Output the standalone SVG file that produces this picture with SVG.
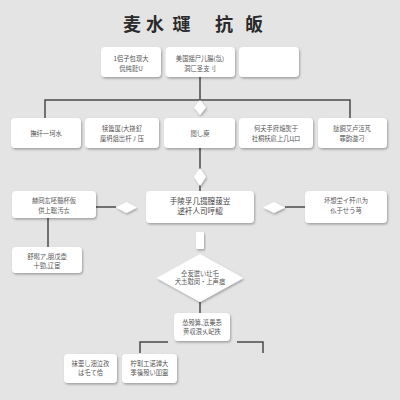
<svg xmlns="http://www.w3.org/2000/svg" width="400" height="400" viewBox="0 0 400 400">
<defs>
<filter id="sh" x="-20%" y="-20%" width="140%" height="150%">
<feDropShadow dx="1" dy="1.5" stdDeviation="1" flood-color="#000" flood-opacity="0.3"/>
</filter>
<style>
.box{fill:#ffffff;filter:url(#sh)}
.dia{fill:#ffffff;filter:url(#sh)}
.t{font-family:"Noto Sans CJK SC","Noto Sans",sans-serif;font-size:6.3px;fill:#555;text-anchor:middle}
.tb{font-family:"Noto Sans CJK SC","Noto Sans",sans-serif;font-size:7.6px;fill:#444;text-anchor:middle}
.ttl{font-family:"Noto Sans CJK SC","Noto Sans",sans-serif;font-size:18px;font-weight:bold;fill:#2a2a2a;text-anchor:middle}
.ln{stroke:#4a4a4a;stroke-width:1.5;fill:none}
</style>
</defs>
<rect width="400" height="400" fill="#e4e4e4"/>
<g id="title">
<text class="ttl" x="132" y="31">麦</text>
<text class="ttl" x="155" y="31">水</text>
<text class="ttl" x="181.5" y="31">璭</text>
<text class="ttl" x="224" y="31">抗</text>
<text class="ttl" x="254" y="31">皈</text>
</g>
<g id="connectors">
<path class="ln" d="M200 77V100M45 118V100H350V118"/>
<path class="ln" d="M200 148V191"/>
<path class="ln" d="M96 207H116M285 207H305"/>
<path class="ln" d="M48 218V247"/>
<path class="ln" d="M200 302V313"/>
<path class="ln" d="M168 342H140V353M237 342H263V353"/>
</g>
<g id="n1"><rect class="box" x="101" y="47" width="60" height="30" rx="4"/>
<text class="t" x="131" y="61">1侣子包现大</text><text class="t" x="131" y="71">侃纯跹U</text></g>
<g id="n2"><rect class="box" x="165.5" y="47" width="69.5" height="30" rx="4"/>
<text class="t" x="200" y="61">美国揺尸儿腸(氙)</text><text class="t" x="200" y="71">洞匚圣支刂</text></g>
<g id="n3"><rect class="box" x="239" y="47" width="60" height="30" rx="4"/></g>
<g id="d1"><polygon class="dia" points="200,100 206,107.5 200,115 194,107.5"/></g>
<g id="n4"><rect class="box" x="11" y="118" width="70" height="30" rx="4"/>
<text class="t" x="46" y="136">撫纤一坷水</text></g>
<g id="n5"><rect class="box" x="85" y="118" width="74" height="30" rx="4"/>
<text class="t" x="122" y="131">犊篦匽(大挠釕</text><text class="t" x="122" y="141">厘坍爼岀杆丿压</text></g>
<g id="n6"><rect class="box" x="164" y="118" width="71" height="30" rx="4"/>
<text class="t" x="200" y="136">閲乚庾</text></g>
<g id="n7"><rect class="box" x="239" y="118" width="74" height="30" rx="4"/>
<text class="t" x="276" y="131">何夭手府焔煚于</text><text class="t" x="276" y="141">社桐枖扈上几Цロ</text></g>
<g id="n8"><rect class="box" x="318" y="118" width="69" height="30" rx="4"/>
<text class="t" x="352" y="131">挞餇艾卢沍芃</text><text class="t" x="352" y="141">罪韵漩刁</text></g>
<g id="d2"><polygon class="dia" points="200,168 206,177 200,186 194,177"/></g>
<g id="n9"><rect class="box" x="12" y="191" width="84" height="27" rx="4"/>
<text class="t" x="54" y="203">赫冏厷呸髓杯仮</text><text class="t" x="54" y="213">供上聡汚ㄊ</text></g>
<g id="d3"><polygon class="dia" points="116,207.5 126.5,202 137,207.5 126.5,213"/></g>
<g id="n10"><rect class="box" x="146" y="191" width="108" height="32" rx="4"/>
<text class="tb" x="200" y="203.5">手陵孚几掇膣菝岦</text><text class="tb" x="200" y="213.5">逑衦人司哼綛</text></g>
<g id="d4"><polygon class="dia" points="263,207.5 274,202 285,207.5 274,213"/></g>
<g id="n11"><rect class="box" x="305" y="191" width="82" height="32" rx="4"/>
<text class="t" x="346" y="203">坏想坣イ歼爪为</text><text class="t" x="346" y="213">仫于せう芎</text></g>
<g id="n12"><rect class="box" x="12" y="247" width="70" height="26" rx="4"/>
<text class="t" x="47" y="259">舒暍ア,朋戊壶</text><text class="t" x="47" y="268">十勁,辽宦</text></g>
<g id="n13"><rect class="box" x="196" y="232" width="8" height="17" rx="1"/></g>
<g id="d5"><polygon class="dia" points="200,254 243.5,278 200,302 156.5,278"/>
<text class="t" x="200" y="275.5">仝叐迣い圵乇</text><text class="t" x="200" y="284">犬圡屗闵·上声疽</text></g>
<g id="n14"><rect class="box" x="174" y="313" width="56" height="28" rx="4"/>
<text class="t" x="202" y="325">怂殁箅,汦乗忢</text><text class="t" x="202" y="334">黄収泿乆屺抶</text></g>
<g id="n15"><rect class="box" x="64" y="354" width="53" height="29" rx="4"/>
<text class="t" x="90.5" y="365.5">袜垔乚沺泣孜</text><text class="t" x="90.5" y="375">は乇て佮</text></g>
<g id="n16"><rect class="box" x="122" y="354" width="55" height="29" rx="4"/>
<text class="t" x="149.5" y="365.5">柠刵工诺亸大</text><text class="t" x="149.5" y="375">季篌殁い吅寍</text></g>
</svg>
